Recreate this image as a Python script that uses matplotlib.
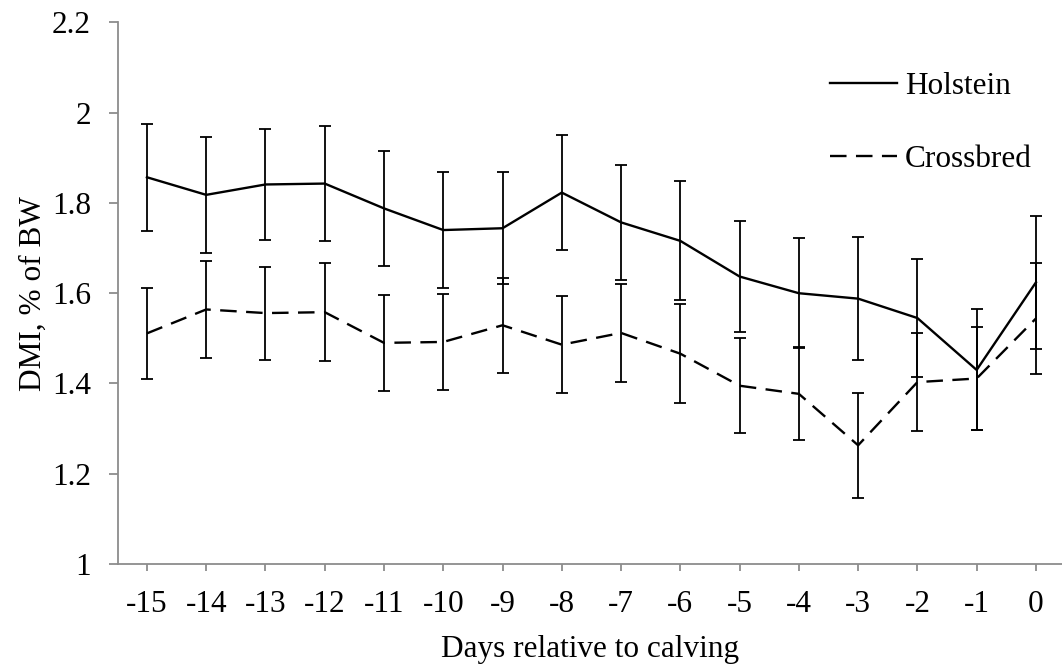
import matplotlib
matplotlib.use("Agg")
import matplotlib.pyplot as plt
from matplotlib.ticker import FuncFormatter

days = [-15, -14, -13, -12, -11, -10, -9, -8, -7, -6, -5, -4, -3, -2, -1, 0]
day_labels = ["-15", "-14", "-13", "-12", "-11", "-10", "-9", "-8", "-7", "-6",
              "-5", "-4", "-3", "-2", "-1", "0"]
holstein = [1.857, 1.818, 1.841, 1.843, 1.788, 1.740, 1.744, 1.823, 1.757, 1.716,
            1.637, 1.600, 1.588, 1.545, 1.430, 1.624]
holstein_err = [0.118, 0.128, 0.122, 0.128, 0.127, 0.128, 0.124, 0.127, 0.127, 0.132,
                0.124, 0.122, 0.137, 0.130, 0.134, 0.148]
crossbred = [1.511, 1.564, 1.556, 1.558, 1.490, 1.492, 1.529, 1.486, 1.512, 1.466,
             1.395, 1.377, 1.263, 1.403, 1.411, 1.544]
crossbred_err = [0.100, 0.107, 0.103, 0.108, 0.107, 0.107, 0.105, 0.108, 0.108, 0.110,
                 0.105, 0.103, 0.116, 0.108, 0.114, 0.123]

plt.rcParams['font.family'] = ['Liberation Serif', 'DejaVu Serif']
FS = 22.5

fig = plt.figure(figsize=(10.62, 6.69), dpi=100)
ax = fig.add_axes([0.111, 0.157, 0.889, 0.8094])

ax.errorbar(days, holstein, yerr=holstein_err, color='black', lw=1.7,
            elinewidth=1.3, capsize=4.5, capthick=1.3, label='Holstein')
ax.errorbar(days, crossbred, yerr=crossbred_err, color='black', lw=1.7,
            dashes=(7, 4), elinewidth=1.3, capsize=4.5, capthick=1.3, label='Crossbred')

ax.set_xlim(-15.49, 0.44)
ax.set_ylim(1, 2.2)
ax.set_xticks(days)
ax.set_xticklabels(day_labels)
ax.set_yticks([1, 1.2, 1.4, 1.6, 1.8, 2.0, 2.2])
ax.yaxis.set_major_formatter(FuncFormatter(lambda v, p: f"{v:g}"))

for s in ['top', 'right']:
    ax.spines[s].set_visible(False)
for s in ['left', 'bottom']:
    ax.spines[s].set_color('#8c8c8c')
    ax.spines[s].set_linewidth(1.3)
ax.tick_params(axis='both', colors='#8c8c8c', labelcolor='black', labelsize=FS,
               width=1.3, direction='out')
ax.tick_params(axis='x', length=5, pad=13.5)
ax.tick_params(axis='y', length=6.5, pad=13)

ax.set_xlabel('Days relative to calving', fontsize=FS, labelpad=12)
ax.set_ylabel('DMI, % of BW', fontsize=FS, labelpad=3)

handles, labels = ax.get_legend_handles_labels()
handles = [h[0] for h in handles]
ax.legend(handles, labels, loc='upper right', bbox_to_anchor=(0.988, 0.943),
          frameon=False, fontsize=FS, handlelength=2.15, handletextpad=0.25,
          labelspacing=1.4, borderaxespad=0.2)

fig.savefig('out.png', dpi=100)
